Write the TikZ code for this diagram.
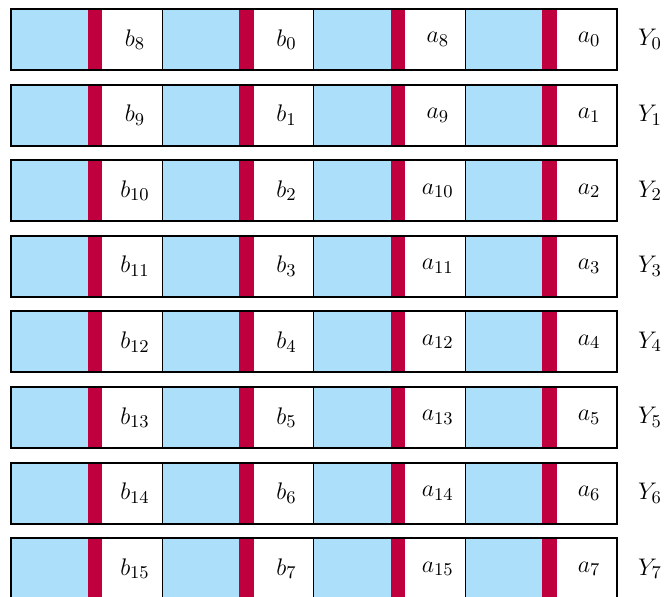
\documentclass[tikz,border=0pt]{standalone}
\definecolor{cellblue}{RGB}{172,223,249}
\definecolor{cellred}{RGB}{192,0,62}
\tikzset{
  bluepart/.style={fill=cellblue, draw=none},
  redpart/.style={fill=cellred, draw=none},
  rowframe/.style={draw=black, line width=1pt},
  blocksep/.style={draw=black, line width=0.6pt},
  cellval/.style={inner sep=0pt, font=\fontsize{12.6}{15}\selectfont},
}
\begin{document}
\begin{tikzpicture}[x=0.5pt,y=-0.5pt]
\useasboundingbox (0,0) rectangle (665,596);

% eight rows, four blocks per row: blue field, red strip, value
\foreach \r in {0,...,7}{
  \pgfmathsetmacro{\rowtop}{9+75.6*\r}
  \pgfmathsetmacro{\rowbot}{\rowtop+61}
  \pgfmathsetmacro{\rowmid}{\rowtop+30.5}
  \pgfmathtruncatemacro{\hi}{\r+8}
  \foreach \c/\lab in {0/b_{\hi},1/b_{\r},2/a_{\hi},3/a_{\r}}{
    \pgfmathsetmacro{\xa}{11+151.4*\c}
    \fill[bluepart] (\xa,\rowtop) rectangle (\xa+76.7,\rowbot);
    \fill[redpart] (\xa+76.7,\rowtop) rectangle (\xa+91.3,\rowbot);
    \node[cellval] (v-\r-\c) at (\xa+124,\rowmid) {$\lab$};
  }
  % separators between the blocks
  \foreach \c in {1,2,3}{
    \pgfmathsetmacro{\xa}{11+151.4*\c}
    \draw[blocksep] (\xa,\rowtop) -- (\xa,\rowbot);
  }
  \draw[rowframe] (11,\rowtop) rectangle (616.7,\rowbot);
  \node[cellval] (y\r) at (650,\rowmid) {$Y_{\r}$};
}
\end{tikzpicture}
\end{document}
